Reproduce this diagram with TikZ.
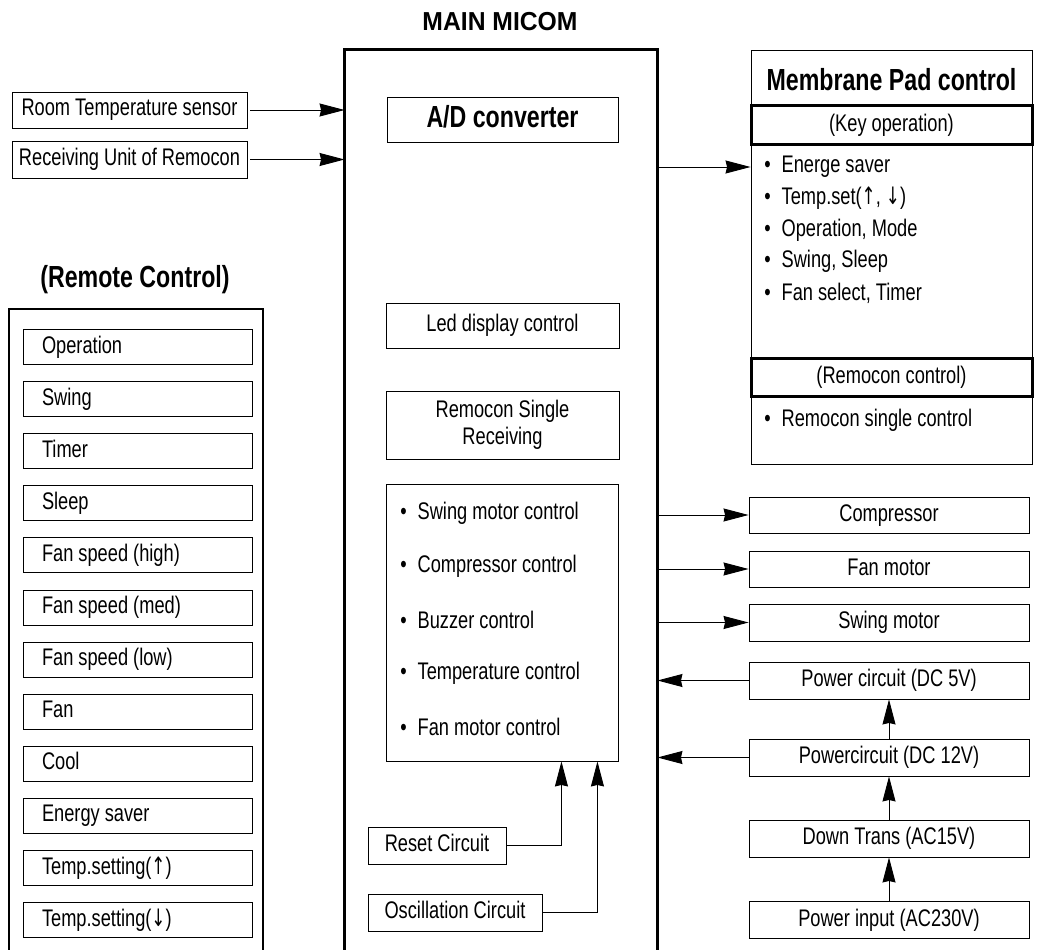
\documentclass[tikz,border=0pt]{standalone}
\usepackage{fontspec}
\setmainfont{Liberation Sans}[FakeStretch=0.76]
\newfontfamily\titlefont{Liberation Sans}[FakeStretch=0.95]
\newfontfamily\arrowfont{DejaVu Sans}[FakeStretch=0.7]
\usetikzlibrary{arrows.meta}
\tikzset{
  blk/.style={draw,inner sep=0pt,minimum height=36pt,text height=17pt,text depth=5pt},
  hdr/.style={font=\fontsize{30.5}{34}\selectfont\bfseries},
  keybox/.style={draw,line width=3pt,inner sep=0pt,minimum width=281pt,minimum height=38pt},
  itm/.style={anchor=west,inner sep=0pt}
}
\newcommand\bul{\textbullet\hspace{0.45em}}
\newcommand\upar{{\arrowfont ↑}}
\newcommand\dnar{{\arrowfont ↓}}
\begin{document}
\begin{tikzpicture}[x=1pt,y=-1pt,line width=0.9pt,line join=miter,font=\fontsize{24}{28}\selectfont,>={Stealth[length=25pt,width=13pt,inset=1.5pt]}]
\useasboundingbox (0,0) rectangle (1037,950);
% main micom
\node[font=\titlefont\fontsize{26}{30}\selectfont\bfseries] (ttlmicom) at (500,22) {MAIN MICOM};
\node[inner sep=0pt,minimum width=312pt,minimum height=900pt] (micom) at (501,500) {};
\draw[line width=2.5pt] (micom.south west) |- (micom.north east) -- (micom.south east);
\node[blk,hdr,minimum width=231pt,minimum height=45pt,text height=22pt,text depth=6pt] (adc) at (502.5,119.5) {A/D converter};
\node[blk,minimum width=233pt,minimum height=45pt] (led) at (502.5,325.5) {Led display control};
\node[blk,minimum width=233pt,minimum height=68pt,text height=,text depth=,align=center,font=\fontsize{24}{27}\selectfont] (rsr) at (502.5,425) {Remocon Single\\Receiving};
\node[blk,minimum width=232pt,minimum height=277pt] (ctlbox) at (502,622.5) {};
\foreach \t [count=\i] in {Swing motor control,Compressor control,Buzzer control,Temperature control,Fan motor control}
  \node[itm] (ctl\i) at (400,{513+53.5*(\i-1)}) {\bul\t};
\node[blk,minimum width=138pt,minimum height=37pt] (rst) at (437,845.5) {Reset Circuit};
\node[blk,minimum width=174pt,minimum height=37pt] (osc) at (455,912.5) {Oscillation Circuit};
\draw[->] (rst.east) -| ([xshift=-57pt]ctlbox.south east);
\draw[->] (osc.east) -| ([xshift=-21pt]ctlbox.south east);
% inputs
\node[blk,minimum width=235pt] (rts) at (129.5,110) {Room Temperature sensor};
\node[blk,minimum width=235pt,minimum height=37pt] (rcv) at (129.5,159.5) {Receiving Unit of Remocon};
\draw[->,shorten <=3pt] (rts) -- (micom.west |- rts);
\draw[->,shorten <=3pt] (rcv) -- (micom.west |- rcv);
% remote control
\node[hdr] (ttlremote) at (135,280) {(Remote Control)};
\node[inner sep=0pt,minimum width=254pt,minimum height=641pt] (remote) at (136,629.5) {};
\draw[line width=2pt] (remote.south west) |- (remote.north east) -- (remote.south east);
\foreach \t [count=\i] in {Operation,Swing,Timer,Sleep,Fan speed (high),Fan speed (med),Fan speed (low),Fan,Cool,Energy saver,Temp.setting(\upar),Temp.setting(\dnar)}
  \node[blk,minimum width=229pt,minimum height=35pt,inner xsep=19pt] (rc\i) at (137.5,{347+52.1*(\i-1)}) {\makebox[191pt][l]{\t}};
% membrane pad
\node[blk,minimum width=281pt,minimum height=414pt,text height=,text depth=] (pad) at (891.5,257) {};
\node[hdr] (padttl) at (891.5,80) {Membrane Pad control};
\node[keybox] (keyop) at (891.5,125) {(Key operation)};
\foreach \t [count=\i] in {Energe saver,{Temp.set(\upar, \dnar)},{Operation, Mode},{Swing, Sleep},{Fan select, Timer}}
  \node[itm] (key\i) at (764,{167+31.5*(\i-1)}) {\bul\t};
\node[keybox] (rmcttl) at (891.5,377) {(Remocon control)};
\node[itm] (rmc1) at (764,420) {\bul Remocon single control};
\draw[->] (micom.east |- key1) -- (pad.west |- key1);
% outputs and power
\node[blk,minimum width=280pt] (cmp) at (889,515) {Compressor};
\node[blk,minimum width=280pt] (fan) at (889,569) {Fan motor};
\node[blk,minimum width=280pt,minimum height=37pt] (swg) at (889,622.5) {Swing motor};
\node[blk,minimum width=280pt,minimum height=37pt] (p5) at (889,680.5) {Power circuit (DC 5V)};
\node[blk,minimum width=280pt,minimum height=37pt] (p12) at (889,757.5) {Powercircuit (DC 12V)};
\node[blk,minimum width=280pt,minimum height=37pt] (dtr) at (889,838.5) {Down Trans (AC15V)};
\node[blk,minimum width=280pt,minimum height=37pt] (pin) at (889,920) {Power input (AC230V)};
\foreach \n in {cmp,fan,swg} \draw[->] (micom.east |- \n) -- (\n);
\foreach \n in {p5,p12} \draw[->] (\n) -- (micom.east |- \n);
\draw[->] (pin) -- (dtr);
\draw[->] (dtr) -- (p12);
\draw[->] (p12) -- (p5);
\end{tikzpicture}
\end{document}
